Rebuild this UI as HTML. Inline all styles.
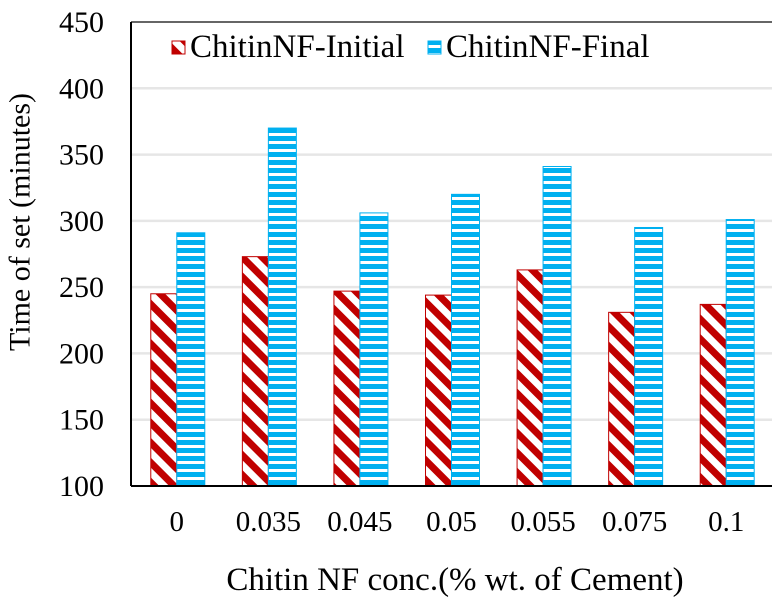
<!DOCTYPE html>
<html><head><meta charset="utf-8"><style>
body{margin:0;background:#fff}
svg text{font-family:"Liberation Serif",serif;fill:#000}
</style></head><body>
<svg id="chart" width="781" height="601">
<defs>
<pattern id="pRed" patternUnits="userSpaceOnUse" width="14" height="14" patternTransform="rotate(-45)">
<rect width="14" height="14" fill="#fff"/><rect width="7" height="14" fill="#c00000"/></pattern>
<pattern id="pBlue" patternUnits="userSpaceOnUse" width="8" height="8">
<rect width="8" height="8" fill="#00b0f0"/><rect y="5" width="8" height="3" fill="#fff"/></pattern>
</defs>
<g id="grid"></g><g id="bars"></g><g id="axes"></g>
<text x="20" y="222" font-size="30" transform="rotate(-90 20 222)" text-anchor="middle" dominant-baseline="central">Time of set (minutes)</text>
<text x="455" y="590" font-size="33" text-anchor="middle">Chitin NF conc.(% wt. of Cement)</text>
<g>
<rect x="172" y="41" width="13" height="13" fill="url(#pRed)" stroke="#c00000"/>
<text x="190" y="57" font-size="33">ChitinNF-Initial</text></g>
<g>
<rect x="428" y="41" width="13" height="13" fill="url(#pBlue)" stroke="#00b0f0"/>
<text x="446" y="57" font-size="33">ChitinNF-Final</text></g>
</svg>
<script>
const categories=["0","0.035","0.045","0.05","0.055","0.075","0.1"];
const initialValues=[245,273,247,244,263,231,237];
const finalValues=[291,370,306,320,341,295,301];
const yTicks=[100,150,200,250,300,350,400,450];
const NS="http://www.w3.org/2000/svg";
const pLeft=131,pRight=772,pTop=22,pBottom=486,yMin=100,yMax=450;
const yS=v=>pBottom-(v-yMin)/(yMax-yMin)*(pBottom-pTop);
const band=(pRight-pLeft)/categories.length;
const xc=i=>pLeft+band*(i+0.5);
function mk(t,a,p){const e=document.createElementNS(NS,t);for(const k in a)e.setAttribute(k,a[k]);p.appendChild(e);return e;}
const grid=document.getElementById('grid'),bars=document.getElementById('bars'),axes=document.getElementById('axes');
yTicks.forEach(v=>{
  if(v>yMin){const l=mk('line',{x1:pLeft,x2:pRight,y1:yS(v),y2:yS(v),stroke:v===yMax?'#333':'#e6e6e6','stroke-width':v===yMax?1.5:2.5},grid);
  
  }
  const t=mk('text',{x:104,y:yS(v)+10,'font-size':30,'text-anchor':'end'},axes);t.textContent=v;
  
  
});
categories.forEach((c,i)=>{
  const cx=xc(i);
  const r1=mk('rect',{x:cx-26,y:yS(initialValues[i]),width:26,height:pBottom-yS(initialValues[i]),fill:'url(#pRed)',stroke:'#c00000','stroke-width':1},bars);
  
  
  const r2=mk('rect',{x:cx,y:yS(finalValues[i]),width:28,height:pBottom-yS(finalValues[i]),fill:'url(#pBlue)',stroke:'#00b0f0','stroke-width':1},bars);
  
  
  const t=mk('text',{x:cx,y:531,'font-size':29,'text-anchor':'middle'},axes);t.textContent=c;
  
  
});
const ax=mk('line',{x1:pLeft,x2:pLeft,y1:pTop,y2:pBottom,stroke:'#000','stroke-width':2},axes);


const bx=mk('line',{x1:pLeft,x2:pRight,y1:pBottom,y2:pBottom,stroke:'#000','stroke-width':2},axes);


</script>
</body></html>
